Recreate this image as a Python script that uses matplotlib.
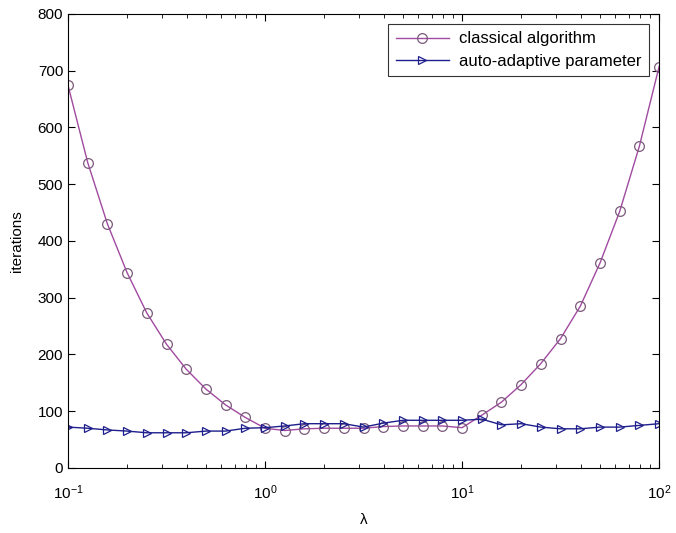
import matplotlib
matplotlib.use("Agg")
import matplotlib.pyplot as plt
import numpy as np

plt.rcParams['font.family'] = ['Liberation Sans', 'DejaVu Sans']
plt.rcParams['mathtext.fontset'] = 'custom'
plt.rcParams['mathtext.rm'] = 'Liberation Sans'
plt.rcParams['mathtext.it'] = 'Liberation Sans:italic'

lam = [0.1, 0.1259, 0.1585, 0.1995, 0.2512, 0.3162, 0.3981, 0.5012, 0.6310, 0.7943,
       1.0, 1.259, 1.585, 1.995, 2.512, 3.162, 3.981, 5.012, 6.310, 7.943,
       10.0, 12.59, 15.85, 19.95, 25.12, 31.62, 39.81, 50.12, 63.10, 79.43, 100.0]
classical = [674, 538, 430, 344, 273, 218, 174, 139, 111, 89,
             70, 66, 69, 70, 70, 70, 73, 74, 74, 74,
             71, 93, 116, 147, 184, 228, 285, 361, 452, 567, 707]
adaptive = [72, 70, 67, 65, 62, 62, 62, 65, 65, 70,
            71, 74, 78, 78, 78, 72, 79, 84, 84, 84,
            84, 86, 76, 78, 72, 69, 69, 72, 72, 75, 78]
xtick_vals = [0.1, 1, 10, 100]
xtick_labels = ['$10^{-1}$', '$10^{0}$', '$10^{1}$', '$10^{2}$']

fig = plt.figure(figsize=(6.76, 5.33), dpi=100)
ax = fig.add_axes([0.1006, 0.122, 0.8744, 0.852])

ax.plot(lam, classical, '-', color='#a04aa0', lw=1.0, marker='o', ms=7,
        mfc='none', mec='#7a5a7a', mew=0.9, label='classical algorithm')
ax.plot(lam, adaptive, '-', color='#1e1e8c', lw=1.0, marker='>', ms=6,
        mfc='none', mec='#1e1e8c', mew=0.9, label='auto-adaptive parameter')

ax.set_xscale('log')
ax.set_xlim(0.1, 100)
ax.set_ylim(0, 800)
ax.set_yticks(range(0, 801, 100))
ax.set_xticks(xtick_vals)
ax.set_xticklabels(xtick_labels)
ax.tick_params(which='both', direction='in', top=True, right=True, labelsize=11)
ax.tick_params(axis='x', which='major', pad=11)
ax.tick_params(which='major', length=5)
ax.tick_params(which='minor', length=3)
ax.set_xlabel('λ', fontsize=11, labelpad=8)
ax.set_ylabel('iterations', fontsize=11, labelpad=10)
for s in ax.spines.values():
    s.set_linewidth(0.8)

leg = ax.legend(loc='upper right', fontsize=12, frameon=True, fancybox=False,
                edgecolor='black', handlelength=3.2, borderaxespad=0.6,
                borderpad=0.45, labelspacing=0.45, handletextpad=0.6)
leg.get_frame().set_linewidth(0.8)

fig.savefig('out.png', dpi=100)
